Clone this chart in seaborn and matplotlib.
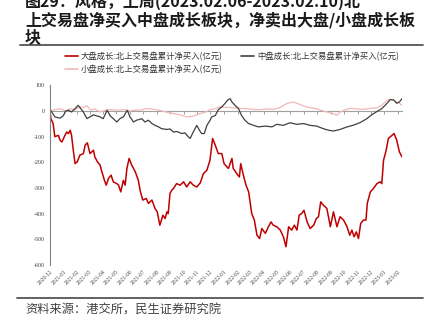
import matplotlib
matplotlib.use("Agg")
import matplotlib.pyplot as plt
import matplotlib.dates as mdates
from matplotlib.lines import Line2D
import numpy as np
import pandas as pd
import seaborn as sns

# ---- data: cumulative northbound net buying by style (亿元) ----
large_dates = [
    "2020-12-01", "2020-12-03", "2020-12-08", "2020-12-12", "2020-12-20", "2020-12-24", "2020-12-28",
    "2021-01-04", "2021-01-08", "2021-01-12", "2021-01-16", "2021-01-19", "2021-01-23", "2021-01-27",
    "2021-02-01", "2021-02-07", "2021-02-15", "2021-02-19", "2021-02-24", "2021-03-02", "2021-03-10",
    "2021-03-13", "2021-03-19", "2021-03-25", "2021-03-29", "2021-04-05", "2021-04-08", "2021-04-13",
    "2021-04-19", "2021-04-24", "2021-05-02", "2021-05-06", "2021-05-11", "2021-05-17", "2021-05-21",
    "2021-05-25", "2021-05-30", "2021-06-05", "2021-06-13", "2021-06-20", "2021-06-24", "2021-06-30",
    "2021-07-08", "2021-07-13", "2021-07-21", "2021-07-28", "2021-08-02", "2021-08-08", "2021-08-15",
    "2021-08-20", "2021-08-24", "2021-08-27", "2021-08-31", "2021-09-04", "2021-09-08", "2021-09-15",
    "2021-09-23", "2021-10-01", "2021-10-08", "2021-10-16", "2021-10-23", "2021-10-31", "2021-11-08",
    "2021-11-15", "2021-11-23", "2021-11-30", "2021-12-06", "2021-12-12", "2021-12-19", "2021-12-27",
    "2022-01-01", "2022-01-11", "2022-01-19", "2022-01-22", "2022-01-30", "2022-02-05", "2022-02-08",
    "2022-02-14", "2022-02-20", "2022-02-26", "2022-03-05", "2022-03-11", "2022-03-17", "2022-03-23",
    "2022-03-28", "2022-04-05", "2022-04-12", "2022-04-18", "2022-04-23", "2022-05-01", "2022-05-09",
    "2022-05-16", "2022-05-22", "2022-05-28", "2022-06-04", "2022-06-10", "2022-06-16", "2022-06-21",
    "2022-06-27", "2022-07-02", "2022-07-09", "2022-07-16", "2022-07-24", "2022-07-30", "2022-08-04",
    "2022-08-09", "2022-08-15", "2022-08-19", "2022-08-23", "2022-08-31", "2022-09-07", "2022-09-15",
    "2022-09-22", "2022-09-30", "2022-10-08", "2022-10-14", "2022-10-19", "2022-10-24", "2022-10-29",
    "2022-11-03", "2022-11-08", "2022-11-14", "2022-11-20", "2022-11-23", "2022-11-30", "2022-12-07",
    "2022-12-15", "2022-12-22", "2022-12-26", "2022-12-30", "2023-01-05", "2023-01-10", "2023-01-18",
    "2023-01-23", "2023-01-29", "2023-02-04", "2023-02-10",
]
large_values = [
    0, -30, -48, -100, -95, -114, -121,
    -95, -82, -88, -75, -95, -153, -205,
    -198, -172, -166, -133, -124, -166, -153,
    -179, -198, -211, -237, -276, -289, -263,
    -250, -276, -283, -289, -315, -270, -289,
    -224, -185, -211, -237, -270, -309, -347,
    -341, -360, -347, -380, -393, -445, -406,
    -419, -393, -400, -322, -309, -302, -283,
    -289, -276, -296, -276, -289, -296, -280,
    -244, -231, -192, -107, -133, -166, -166,
    -205, -224, -185, -224, -244, -257, -205,
    -250, -289, -315, -399, -425, -484, -497,
    -458, -477, -451, -432, -445, -451, -464,
    -490, -529, -451, -464, -445, -464, -406,
    -399, -387, -432, -458, -445, -419, -412,
    -354, -367, -373, -380, -451, -393, -451,
    -412, -425, -451, -484, -464, -490, -471,
    -497, -438, -425, -425, -360, -315, -302,
    -283, -276, -283, -192, -153, -107, -95,
    -88, -114, -159, -179,
]

mid_dates = [
    "2020-12-01", "2020-12-05", "2020-12-12", "2020-12-24", "2020-12-31", "2021-01-06", "2021-01-12",
    "2021-01-19", "2021-01-27", "2021-02-03", "2021-02-09", "2021-02-15", "2021-02-23", "2021-03-02",
    "2021-03-10", "2021-03-17", "2021-03-25", "2021-04-01", "2021-04-10", "2021-04-17", "2021-04-24",
    "2021-05-02", "2021-05-09", "2021-05-17", "2021-05-26", "2021-06-01", "2021-06-09", "2021-06-16",
    "2021-06-28", "2021-07-05", "2021-07-13", "2021-07-21", "2021-07-28", "2021-08-05", "2021-08-12",
    "2021-08-24", "2021-08-31", "2021-09-08", "2021-09-16", "2021-09-27", "2021-10-04", "2021-10-12",
    "2021-10-16", "2021-10-23", "2021-10-31", "2021-11-06", "2021-11-11", "2021-11-17", "2021-11-23",
    "2021-11-30", "2021-12-04", "2021-12-12", "2021-12-19", "2021-12-27", "2022-01-03", "2022-01-09",
    "2022-01-15", "2022-01-19", "2022-01-26", "2022-02-03", "2022-02-10", "2022-02-18", "2022-02-26",
    "2022-03-09", "2022-03-20", "2022-04-05", "2022-04-20", "2022-05-01", "2022-05-16", "2022-05-31",
    "2022-06-16", "2022-07-01", "2022-07-16", "2022-07-31", "2022-08-15", "2022-08-27", "2022-09-07",
    "2022-09-22", "2022-10-08", "2022-10-23", "2022-11-07", "2022-11-22", "2022-12-03", "2022-12-15",
    "2022-12-26", "2023-01-07", "2023-01-14", "2023-01-22", "2023-01-29", "2023-02-04", "2023-02-10",
]
mid_values = [
    5, -4, -23, -28, -19, 0, 3,
    -4, 9, 22, 9, -4, -30, -23,
    -15, -19, -23, -30, 3, -19, -30,
    -43, -30, -23, 3, -23, -43, -36,
    -30, -43, -36, -49, -56, -62, -69,
    -72, -70, -82, -80, -88, -85, -101,
    -107, -82, -56, -75, -88, -88, -56,
    -37, -23, -18, 5, 16, 29, 42,
    48, 35, 22, 9, -18, -37, -49,
    -56, -62, -59, -62, -52, -56, -46,
    -52, -49, -56, -59, -69, -75, -78,
    -72, -62, -55, -45, -30, -15, -2,
    9, 30, 44, 43, 30, 35, 48,
]

small_dates = [
    "2020-12-01", "2020-12-12", "2020-12-24", "2021-01-08", "2021-01-16", "2021-01-27", "2021-02-07",
    "2021-02-15", "2021-02-23", "2021-03-04", "2021-03-13", "2021-03-25", "2021-04-05", "2021-04-17",
    "2021-05-02", "2021-05-17", "2021-06-01", "2021-06-13", "2021-06-24", "2021-07-05", "2021-07-17",
    "2021-07-28", "2021-08-08", "2021-08-24", "2021-09-08", "2021-09-23", "2021-10-08", "2021-10-23",
    "2021-11-08", "2021-11-19", "2021-11-30", "2021-12-12", "2021-12-23", "2022-01-07", "2022-01-22",
    "2022-02-07", "2022-02-22", "2022-03-09", "2022-03-24", "2022-04-08", "2022-04-23", "2022-05-09",
    "2022-05-24", "2022-06-08", "2022-06-23", "2022-07-09", "2022-07-27", "2022-08-15", "2022-08-31",
    "2022-09-09", "2022-09-15", "2022-09-22", "2022-10-04", "2022-10-15", "2022-10-30", "2022-11-14",
    "2022-11-30", "2022-12-15", "2022-12-26", "2023-01-07", "2023-01-18", "2023-01-29", "2023-02-04",
    "2023-02-10",
]
small_values = [
    0, 5, 9, 0, 9, 5, 16,
    13, 20, 3, 8, -4, 2, 6,
    3, 5, 0, 4, 3, 8, 9,
    6, 2, -5, -10, -15, -23, -20,
    -10, -5, 5, 9, 16, 14, 13,
    10, 9, 6, 5, 8, 6, 14,
    29, 35, 25, 15, 10, 0, -8,
    -12, -17, -5, 5, 10, 8, 6,
    10, 12, 22, 42, 45, 35, 30,
    22,
]

series_names = [
    "大盘成长:北上交易盘累计净买入(亿元)",
    "中盘成长:北上交易盘累计净买入(亿元)",
    "小盘成长:北上交易盘累计净买入(亿元)",
]
series_colors = ["#C00000", "#404040", "#F2B8B8"]

month_ticks = pd.date_range("2020-12-01", "2023-02-01", freq="MS")
month_labels = [d.strftime("%Y-%m") for d in month_ticks]
y_ticks = [100, 0, -100, -200, -300, -400, -500, -600]

title_lines = [
    "图29：风格，上周(2023.02.06-2023.02.10)北",
    "上交易盘净买入中盘成长板块，净卖出大盘/小盘成长板",
    "块",
]
source_text = "资料来源：港交所，民生证券研究院"

# ---- build long-form table ----
frames = []
for name, d, v in zip(series_names,
                      [large_dates, mid_dates, small_dates],
                      [large_values, mid_values, small_values]):
    frames.append(pd.DataFrame({"date": pd.to_datetime(d), "value": v, "series": name}))
df = pd.concat(frames, ignore_index=True)

# ---- figure ----
sns.set_style("white")
plt.rcParams["font.family"] = ["Noto Sans CJK SC", "DejaVu Sans"]
plt.rcParams["axes.unicode_minus"] = False

W, H = 433, 324
fig = plt.figure(figsize=(W / 100, H / 100), dpi=100)
ax = fig.add_axes([50 / W, 1 - 265 / H, 352 / W, (265 - 85.3) / H])

draw_order = [2, 1, 0]
widths = {0: 1.1, 1: 0.9, 2: 0.9}
for i in draw_order:
    sub = df[df["series"] == series_names[i]]
    sns.lineplot(data=sub, x="date", y="value", ax=ax, color=series_colors[i],
                 linewidth=widths[i], legend=False, estimator=None, sort=True)

ax.set_xlim(pd.Timestamp("2020-12-01"), pd.Timestamp("2023-02-10"))
ax.set_ylim(-600, 100)
ax.set_xlabel("")
ax.set_ylabel("")

# y axis
ax.set_yticks(y_ticks)
ax.set_yticklabels([str(t) for t in y_ticks], fontfamily="Liberation Serif",
                   fontsize=4.3, color="#404040")
ax.tick_params(axis="y", direction="out", length=2, width=0.6, color="#808080", pad=2)
for s in ["top", "right", "bottom"]:
    ax.spines[s].set_visible(False)
ax.spines["left"].set_color("#808080")
ax.spines["left"].set_linewidth(0.8)

# month labels along the bottom
ax.set_xticks(month_ticks)
ax.set_xticklabels(month_labels, rotation=45, ha="right", rotation_mode="anchor",
                   fontfamily="Liberation Serif", fontsize=4.0, color="#404040")
ax.tick_params(axis="x", length=0, pad=3)

# zero baseline with small month ticks
zero_frac = (0 - (-600)) / (100 - (-600))
sec = ax.secondary_xaxis(zero_frac)
sec.set_xticks(mdates.date2num(month_ticks))
sec.tick_params(axis="x", direction="in", length=2, width=0.6, color="#909090",
                labelbottom=False, labeltop=False)
for s in sec.spines.values():
    s.set_color("#a0a0a0")
    s.set_linewidth(0.8)

# legend
handles = [Line2D([0], [0], color=series_colors[i], lw=1.2) for i in [0, 2, 1]]
labels = [series_names[i] for i in [0, 2, 1]]
fig.legend(handles, labels, loc="upper left", bbox_to_anchor=(65 / W, 1 - 52 / H),
           ncol=2, frameon=False, fontsize=6, handlelength=1.6, handletextpad=0.3,
           columnspacing=2.2, labelspacing=0.45, borderaxespad=0, borderpad=0,
           labelcolor="#333333")

# title, rules and source
for line, ypx in zip(title_lines, [1, 20.5, 37.5]):
    fig.text(25 / W, 1 - ypx / H, line, ha="left", va="center", fontsize=11.5,
             fontweight="bold", color="#1a1a1a")
fig.add_artist(Line2D([20 / W, 423 / W], [1 - 45 / H, 1 - 45 / H], color="#555555", lw=1.3))
fig.add_artist(Line2D([17 / W, 423 / W], [1 - 298 / H, 1 - 298 / H], color="#555555", lw=1.3))
fig.text(25 / W, 1 - 310 / H, source_text, ha="left", va="center", fontsize=8.8,
         color="#404040")

fig.savefig("out.png", dpi=100)
